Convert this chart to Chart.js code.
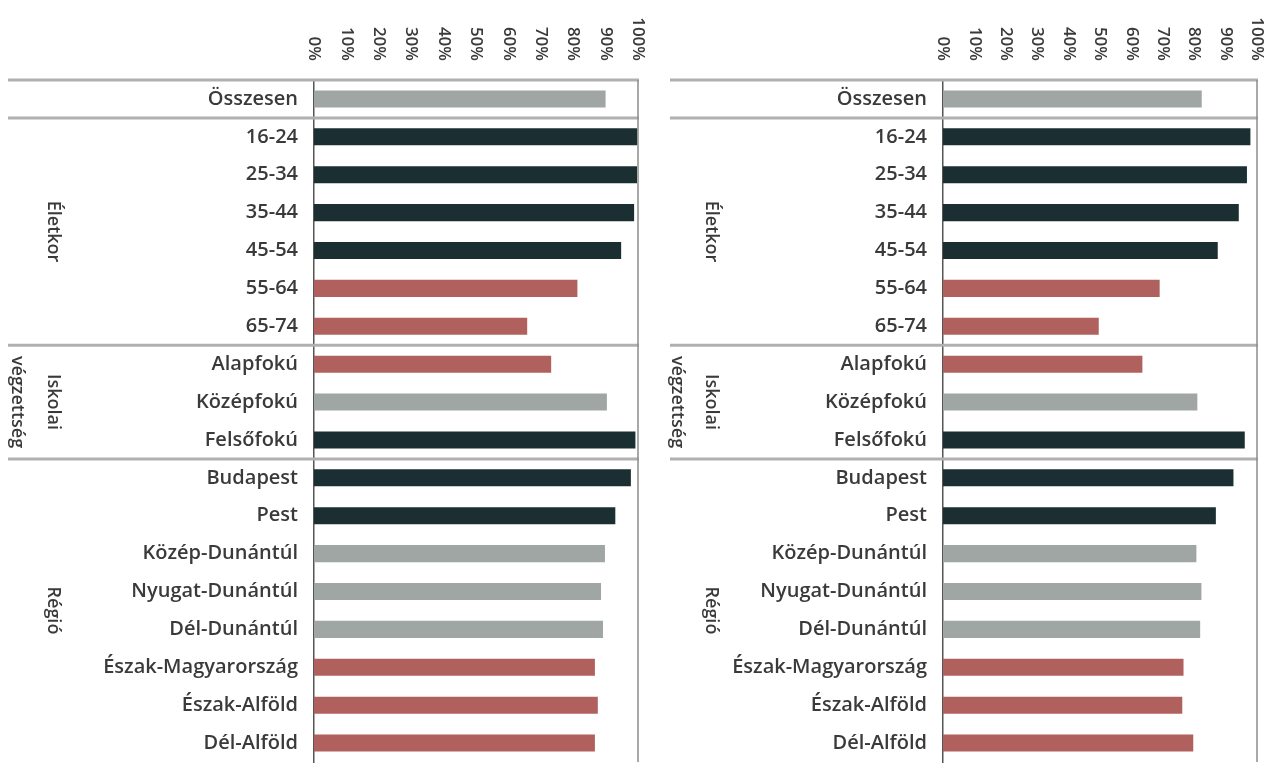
<!DOCTYPE html>
<html>
<head>
<meta charset="utf-8">
<script src="https://cdn.jsdelivr.net/npm/chart.js@4.4.1/dist/chart.umd.min.js"></script>
<style>
  body { margin: 0; background: #fff; overflow: hidden; }
  .panel { position: absolute; top: 0; }
</style>
</head>
<body>
<div class="panel" style="left:0"><canvas id="leftChart" width="650" height="790"></canvas></div>
<div class="panel" style="left:650px"><canvas id="rightChart" width="622" height="790"></canvas></div>
<script>
const categories = [
  "Összesen",
  "16-24", "25-34", "35-44", "45-54", "55-64", "65-74",
  "Alapfokú", "Középfokú", "Felsőfokú",
  "Budapest", "Pest", "Közép-Dunántúl", "Nyugat-Dunántúl", "Dél-Dunántúl",
  "Észak-Magyarország", "Észak-Alföld", "Dél-Alföld"
];

// share of people (%)
const leftValues = [90, 99.8, 99.7, 98.8, 94.8, 81.3, 65.8, 73.2, 90.4, 99.2, 97.8, 93, 89.8, 88.6, 89.2, 86.7, 87.6, 86.7];
const rightValues = [82.4, 97.9, 96.8, 94.2, 87.5, 69, 49.6, 63.5, 81, 96.1, 92.5, 86.9, 80.7, 82.3, 81.9, 76.6, 76.2, 79.7];

// bar colour class for each category: "high", "mid", "low"
const colorClass = [
  "mid",
  "high", "high", "high", "high", "low", "low",
  "low", "mid", "high",
  "high", "high", "mid", "mid", "mid",
  "low", "low", "low"
];

const tickValues = [0, 10, 20, 30, 40, 50, 60, 70, 80, 90, 100];
const tickLabels = ["0%", "10%", "20%", "30%", "40%", "50%", "60%", "70%", "80%", "90%", "100%"];

const groupNames = [["Életkor"], ["Iskolai", "végzettség"], ["Régió"]];
const groupFirst = [1, 7, 10];
const groupLast = [6, 9, 17];

const palette = { high: "#1b2f32", mid: "#a0a6a4", low: "#b0615d" };
const textColor = "#3a3a3a";
const fontFamily = '"Open Sans", "Noto Sans", sans-serif';

const panelDecor = {
  id: "panelDecor",
  afterDraw(chart, args, opts) {
    const ctx = chart.ctx;
    const a = chart.chartArea;
    const x = chart.scales.x;
    const y = chart.scales.y;
    ctx.save();

    // rotated percent ticks above the plot
    ctx.fillStyle = textColor;
    ctx.font = "600 17px " + fontFamily;
    ctx.textAlign = "right";
    ctx.textBaseline = "middle";
    tickValues.forEach((v, i) => {
      ctx.save();
      ctx.translate(x.getPixelForValue(v), opts.tickEnd);
      ctx.rotate(Math.PI / 2);
      ctx.fillText(tickLabels[i], 0, 0);
      ctx.restore();
    });

    // separator lines
    ctx.strokeStyle = "#b0b0b0";
    ctx.lineWidth = 3;
    const lineYs = [a.top];
    groupFirst.forEach(i => lineYs.push((y.getPixelForValue(i - 1) + y.getPixelForValue(i)) / 2));
    lineYs.forEach(ly => {
      ctx.beginPath();
      ctx.moveTo(opts.lineStart, ly);
      ctx.lineTo(a.right + 1, ly);
      ctx.stroke();
    });

    // right frame
    ctx.strokeStyle = "#8c8c8c";
    ctx.lineWidth = 1.5;
    ctx.beginPath();
    ctx.moveTo(a.right, a.top);
    ctx.lineTo(a.right, a.bottom);
    ctx.stroke();

    // group titles, rotated
    ctx.font = "600 18px " + fontFamily;
    ctx.textAlign = "center";
    groupNames.forEach((lines, g) => {
      const cy = (y.getPixelForValue(groupFirst[g]) + y.getPixelForValue(groupLast[g])) / 2;
      lines.forEach((txt, k) => {
        const gx = lines.length === 1 ? opts.groupX[0] : opts.groupX[k];
        ctx.save();
        ctx.translate(gx, cy);
        ctx.rotate(Math.PI / 2);
        ctx.fillText(txt, 0, 0);
        ctx.restore();
      });
    });
    ctx.restore();
  }
};

function makeChart(id, values, axisWidth, padRight, decor) {
  const ctx = document.getElementById(id).getContext("2d");
  return new Chart(ctx, {
    type: "bar",
    data: {
      labels: categories,
      datasets: [{
        data: values,
        backgroundColor: colorClass.map(c => palette[c]),
        borderWidth: 0,
        barPercentage: 0.45,
        categoryPercentage: 1
      }]
    },
    options: {
      indexAxis: "y",
      responsive: false,
      animation: false,
      layout: { padding: { top: 80, right: padRight, bottom: 22, left: 0 } },
      plugins: { legend: { display: false }, tooltip: { enabled: false }, panelDecor: decor },
      scales: {
        x: { type: "linear", min: 0, max: 100, display: false },
        y: {
          grid: { display: false, drawTicks: false },
          border: { display: true, color: "#555", width: 1.5 },
          ticks: { color: textColor, font: { family: fontFamily, size: 20, weight: "600" }, padding: 16 },
          afterFit(scale) { scale.width = axisWidth; }
        }
      }
    },
    plugins: [panelDecor]
  });
}

makeChart("leftChart", leftValues, 314, 12, { tickEnd: 61, lineStart: 8, groupX: [53, 17] });
makeChart("rightChart", rightValues, 293, 15, { tickEnd: 61, lineStart: 20, groupX: [61, 27] });
</script>
</body>
</html>
